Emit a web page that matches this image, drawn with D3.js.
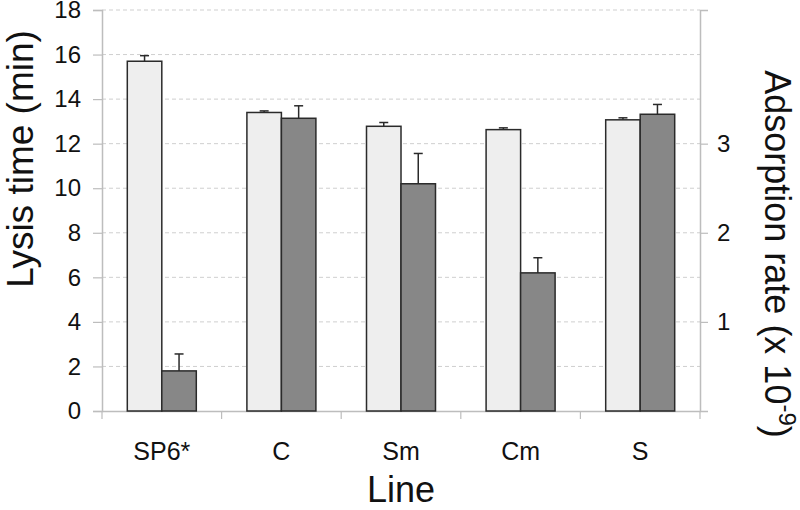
<!DOCTYPE html>
<html><head><meta charset="utf-8">
<script src="https://cdn.jsdelivr.net/npm/d3@7"></script>
<style>body{margin:0;background:#fff}svg{display:block}text{font-family:"Liberation Sans",Arial,sans-serif;fill:#111}</style>
</head><body><svg id="c" width="800" height="510"></svg>
<script>
const categories = ["SP6*", "C", "Sm", "Cm", "S"];
const lysisTime = [15.7, 13.4, 12.78, 12.63, 13.07];
const lysisErr = [0.25, 0.07, 0.17, 0.08, 0.09];
const adsorption = [0.45, 3.285, 2.55, 1.55, 3.33];
const adsorptionErr = [0.19, 0.14, 0.34, 0.17, 0.11];
const leftTicks = [0, 2, 4, 6, 8, 10, 12, 14, 16, 18];
const rightTicks = [1, 2, 3];

const svg = d3.select("#c");
const L = 102, R = 700, T = 10, B = 411;
const yL = d3.scaleLinear().domain([0, 18]).range([B, T]);
const yR = d3.scaleLinear().domain([0, 4.5]).range([B, T]);
const x = d3.scaleBand().domain(categories).range([L, R]).padding(0);
const barW = 34.5;
const inner = d3.scaleBand().domain(["lysis", "ads"]).range([0, barW * 2]);
const off = (x.bandwidth() - barW * 2) / 2;

// gridlines
svg.append("g").selectAll("line").data(leftTicks.slice(1)).join("line")
  .attr("x1", L).attr("x2", R).attr("y1", d => yL(d)).attr("y2", d => yL(d))
  .attr("stroke", "#cfcfcf").attr("stroke-width", 1).attr("stroke-dasharray", "4,3");

// axes
const gl = svg.append("g").attr("transform", `translate(${L},0)`)
  .call(d3.axisLeft(yL).tickValues(leftTicks).tickSize(9).tickPadding(12));
const gr = svg.append("g").attr("transform", `translate(${R},0)`)
  .call(d3.axisRight(yR).tickValues(rightTicks).tickFormat(d3.format("d")).tickSize(8).tickPadding(9));
const gb = svg.append("g").attr("transform", `translate(0,${B})`)
  .call(d3.axisBottom(x).tickSize(0).tickPadding(31));
[gl, gr, gb].forEach(g => {
  g.select(".domain").attr("stroke", "#bdbdbd").attr("stroke-width", 1.5);
  g.selectAll(".tick line").attr("stroke", "#bdbdbd").attr("stroke-width", 1.2);
  g.selectAll("text").attr("font-size", 24).attr("fill", "#111")
    .style("font-family", '"Liberation Sans",Arial,sans-serif');
});
gb.selectAll(".tick text").attr("font-size", 25);
// bottom tick marks at group boundaries
const bounds = categories.map(c => x(c)).concat([R]);
svg.append("g").selectAll("line").data(bounds).join("line")
  .attr("x1", d => d).attr("x2", d => d).attr("y1", B).attr("y2", B + 8)
  .attr("stroke", "#bdbdbd").attr("stroke-width", 1.2);

// bars
const g = svg.append("g");
categories.forEach((c, i) => {
  const x0 = x(c) + off;
  g.append("rect").attr("x", x0 + inner("lysis")).attr("width", barW)
    .attr("y", yL(lysisTime[i])).attr("height", B - yL(lysisTime[i]))
    .attr("fill", "#eeeeee").attr("stroke", "#2a2a2a").attr("stroke-width", 1.5);
  g.append("rect").attr("x", x0 + inner("ads")).attr("width", barW)
    .attr("y", yR(adsorption[i])).attr("height", B - yR(adsorption[i]))
    .attr("fill", "#878787").attr("stroke", "#2a2a2a").attr("stroke-width", 1.5);
  const eb = (cx, yTop, yEnd) => {
    g.append("line").attr("x1", cx).attr("x2", cx).attr("y1", yTop).attr("y2", yEnd)
      .attr("stroke", "#2a2a2a").attr("stroke-width", 1.5);
    g.append("line").attr("x1", cx - 4.5).attr("x2", cx + 4.5).attr("y1", yEnd).attr("y2", yEnd)
      .attr("stroke", "#2a2a2a").attr("stroke-width", 1.5);
  };
  eb(x0 + inner("lysis") + barW / 2, yL(lysisTime[i]), yL(lysisTime[i] + lysisErr[i]));
  eb(x0 + inner("ads") + barW / 2, yR(adsorption[i]), yR(adsorption[i] + adsorptionErr[i]));
});

// titles
svg.append("text").attr("transform", "translate(33,159) rotate(-90)")
  .attr("text-anchor", "middle").attr("font-size", 37).text("Lysis time (min)");
const rt = svg.append("text").attr("transform", "translate(765,254) rotate(90)")
  .attr("text-anchor", "middle").attr("font-size", 36);
rt.append("tspan").text("Adsorption rate (x 10");
rt.append("tspan").attr("dy", -14).attr("font-size", 24).text("-9");
rt.append("tspan").attr("dy", 14).text(")");
svg.append("text").attr("x", 401).attr("y", 502).attr("text-anchor", "middle")
  .attr("font-size", 36).text("Line");
</script></body></html>
